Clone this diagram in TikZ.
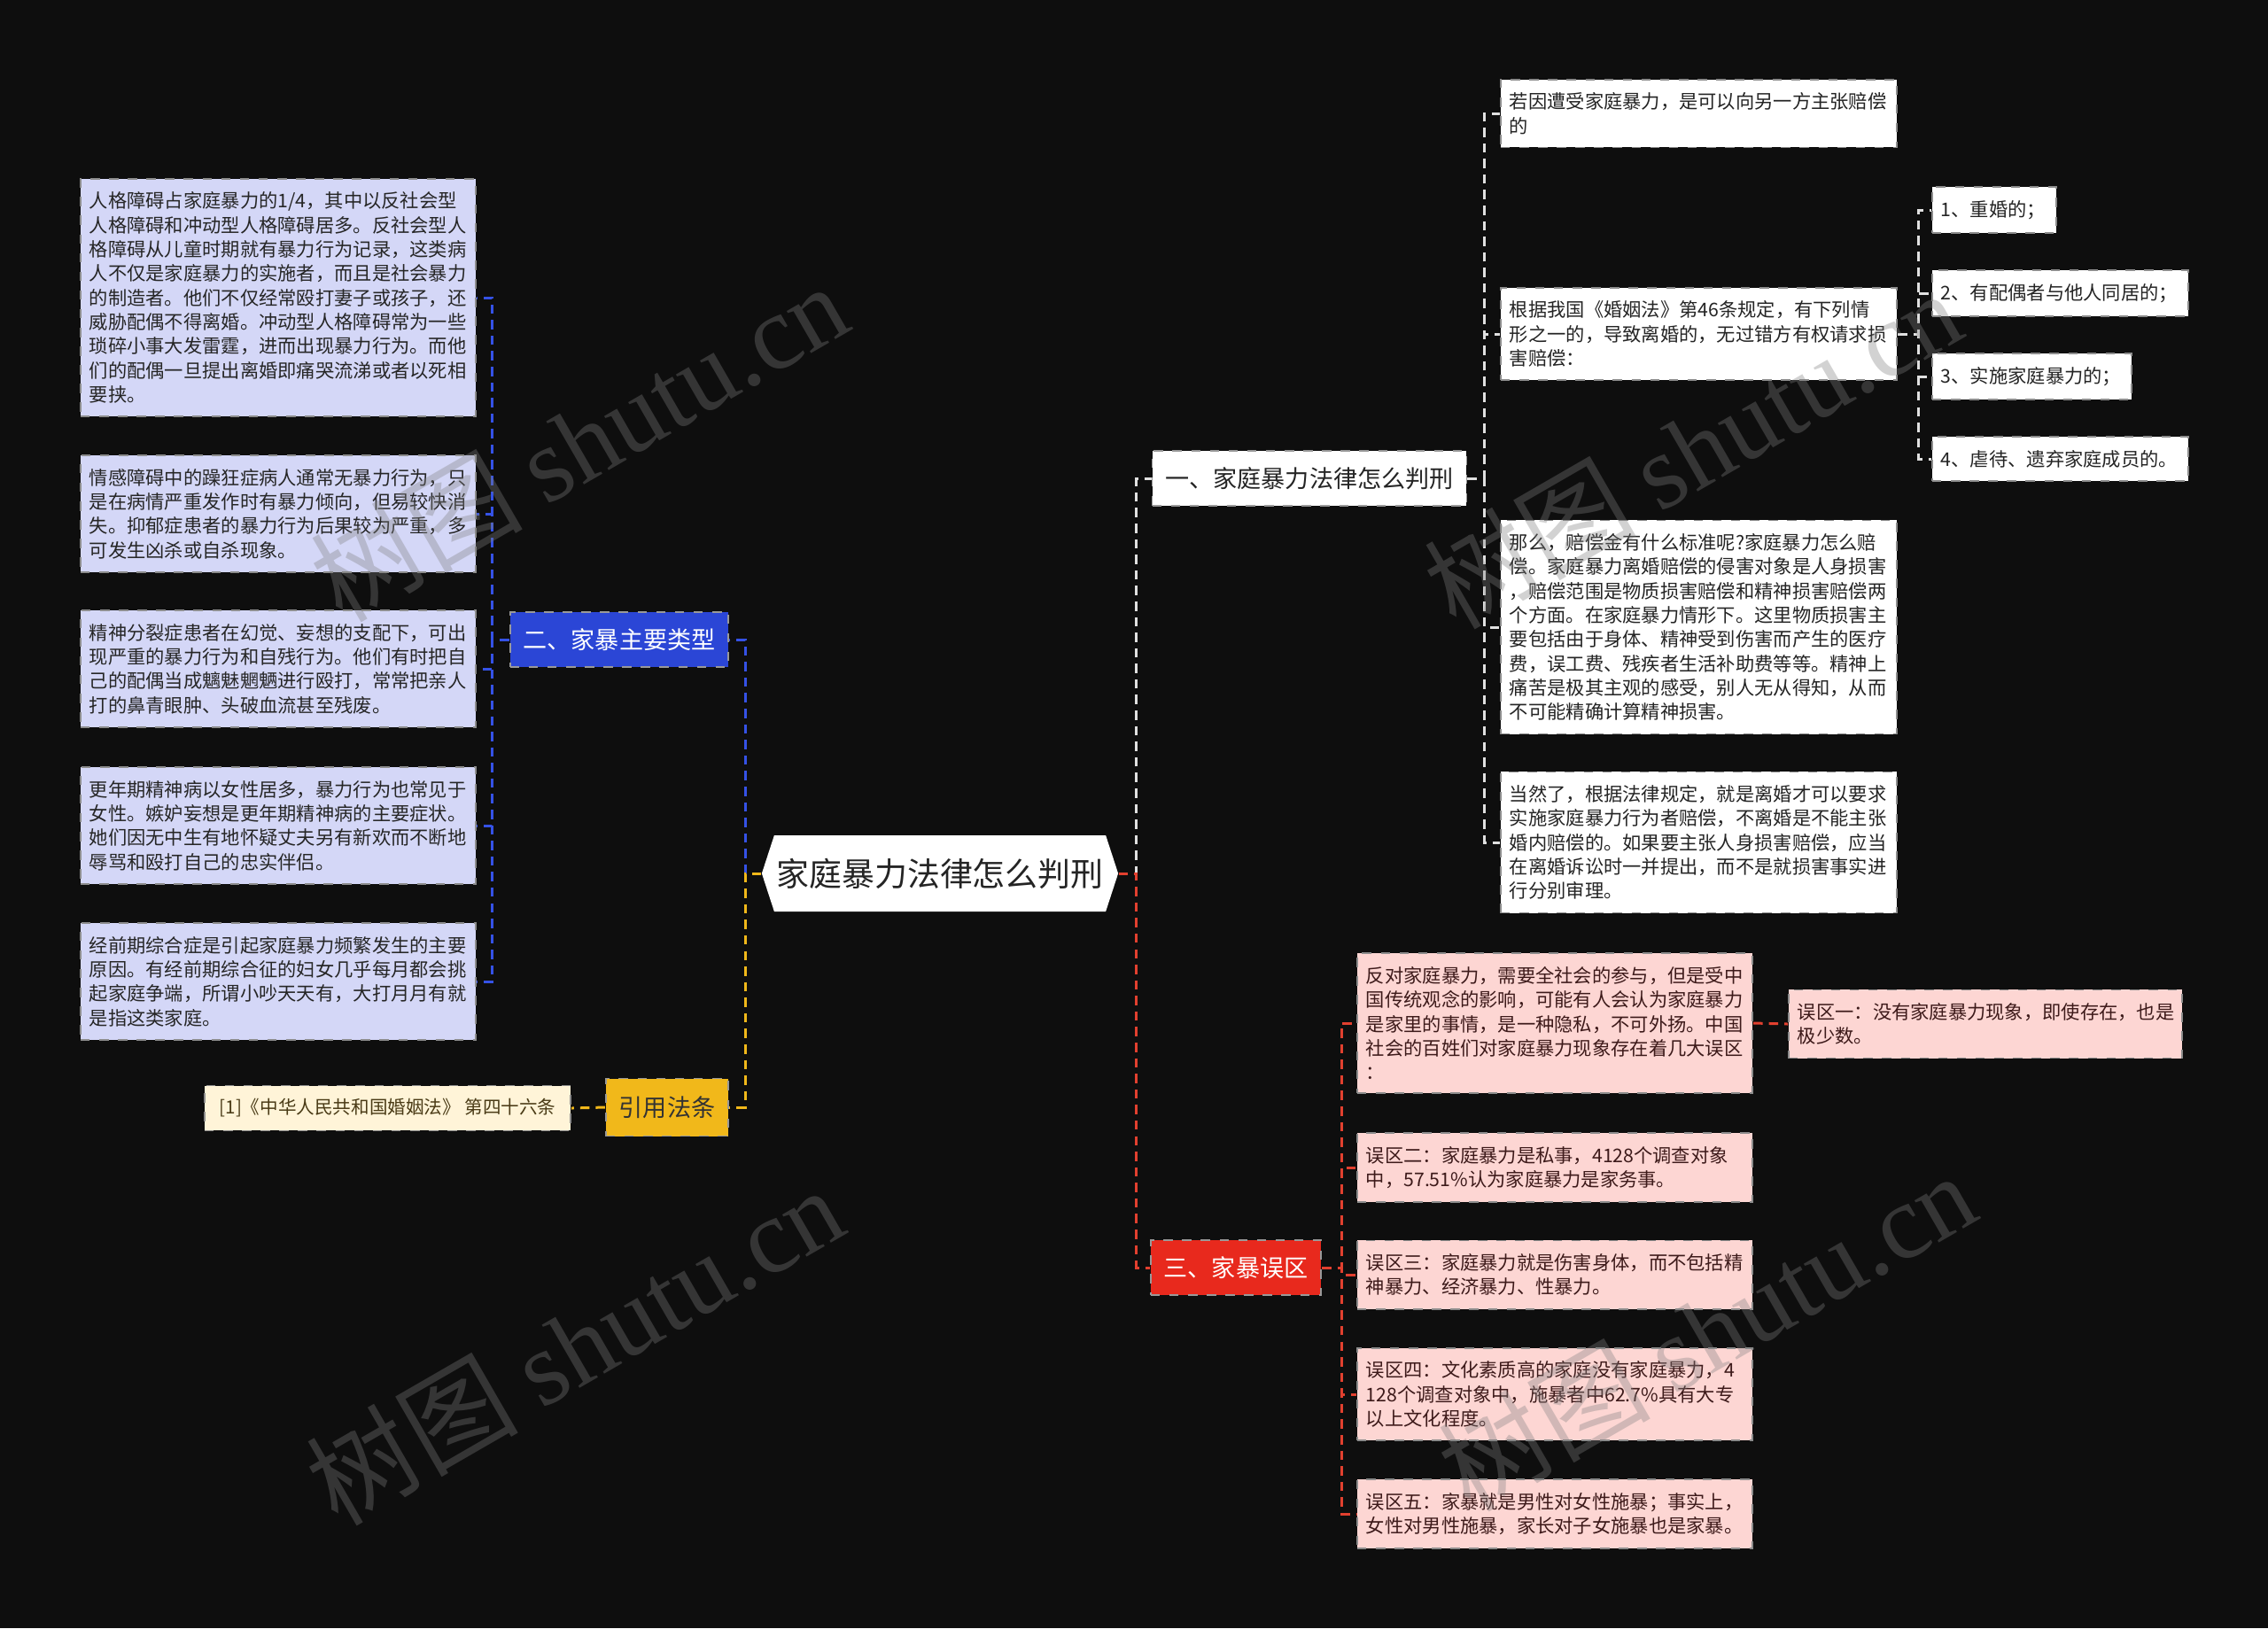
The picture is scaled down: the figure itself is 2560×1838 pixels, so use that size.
\documentclass[tikz,border=0pt]{standalone}
\usepackage{fontspec}
\setmainfont{Noto Sans CJK SC}
\newfontfamily\wmlatin{Liberation Serif}
\usepackage{tikz}
\usetikzlibrary{positioning}
\definecolor{bgdark}{HTML}{0E0E0E}
\definecolor{bluebr}{HTML}{2B46D6}
\definecolor{bluelink}{HTML}{3552E6}
\definecolor{redbr}{HTML}{E8291D}
\definecolor{redlink}{HTML}{E2402F}
\definecolor{goldbr}{HTML}{F1B81A}
\definecolor{lavfill}{HTML}{D4D7F7}
\definecolor{pinkfill}{HTML}{FDD6D3}
\definecolor{creamfill}{HTML}{FFF4D8}
\definecolor{inkdark}{HTML}{242424}
\definecolor{inkpink}{HTML}{3D1A1A}
\definecolor{inkcream}{HTML}{4A3B16}
\tikzstyle{leaf}=[draw=black!45,dashed,line width=0.5pt,anchor=west,align=left,inner xsep=0.10cm,inner ysep=0.15cm,font=\fontsize{6.05}{7.77}\selectfont]
\tikzstyle{branch}=[draw=black!40,dashed,line width=0.5pt,inner xsep=0.15cm,minimum height=0.62cm,font=\fontsize{7.7}{9}\selectfont]
\tikzstyle{lnk}=[line width=0.85pt,dash pattern=on 3pt off 2pt]
\tikzstyle{wmark}=[rotate=30,text=gray,text opacity=0.35,font=\fontsize{34}{34}\selectfont]

\begin{document}
\begin{tikzpicture}[x=0.01cm,y=-0.01cm]
  \useasboundingbox (0,0) rectangle (2560,1838);
  \fill[bgdark] (0,0) rectangle (2560,1838);

  % root
  \node[font=\fontsize{10.5}{12}\selectfont,text=inkdark,minimum width=4.02cm,minimum height=0.86cm,inner sep=0,fill=bgdark,
    path picture={\fill[white] (path picture bounding box.west) -- ([xshift=0.14cm]path picture bounding box.north west)
      -- ([xshift=-0.14cm]path picture bounding box.north east) -- (path picture bounding box.east)
      -- ([xshift=-0.14cm]path picture bounding box.south east) -- ([xshift=0.14cm]path picture bounding box.south west) -- cycle;}]
    (root) at (1061,986) {家庭暴力法律怎么判刑};

  % branches
  \node[branch,fill=white,text=inkdark] (one) at (1478,540) {一、家庭暴力法律怎么判刑};
  \node[branch,fill=bluebr,text=white] (two) at (699,722) {二、家暴主要类型};
  \node[branch,fill=goldbr,text=black!80,minimum height=0.65cm] (cite) at (753,1250) {引用法条};
  \node[branch,fill=redbr,text=white] (three) at (1395,1431) {三、家暴误区};

  % branch one
  \node[leaf,fill=white,text=inkdark,text width=4.27cm] (ra) at (1693,128) {若因遭受家庭暴力，是可以向另一方主张赔偿\\的};
  \node[leaf,fill=white,text=inkdark,text width=4.27cm] (rb) at (1693,377) {根据我国《婚姻法》第46条规定，有下列情\\形之一的，导致离婚的，无过错方有权请求损\\害赔偿：};
  \node[leaf,fill=white,text=inkdark,text width=4.27cm] (rc) at (1693,708) {那么，赔偿金有什么标准呢?家庭暴力怎么赔\\偿。家庭暴力离婚赔偿的侵害对象是人身损害\\，赔偿范围是物质损害赔偿和精神损害赔偿两\\个方面。在家庭暴力情形下。这里物质损害主\\要包括由于身体、精神受到伤害而产生的医疗\\费，误工费、残疾者生活补助费等等。精神上\\痛苦是极其主观的感受，别人无从得知，从而\\不可能精确计算精神损害。};
  \node[leaf,fill=white,text=inkdark,text width=4.27cm] (rd) at (1693,951) {当然了，根据法律规定，就是离婚才可以要求\\实施家庭暴力行为者赔偿，不离婚是不能主张\\婚内赔偿的。如果要主张人身损害赔偿，应当\\在离婚诉讼时一并提出，而不是就损害事实进\\行分别审理。};
  \node[leaf,fill=white,text=inkdark,text width=1.20cm] (ca) at (2180,237) {1、重婚的；};
  \node[leaf,fill=white,text=inkdark,text width=2.69cm] (cb) at (2180,331) {2、有配偶者与他人同居的；};
  \node[leaf,fill=white,text=inkdark,text width=2.05cm] (cc) at (2180,425) {3、实施家庭暴力的；};
  \node[leaf,fill=white,text=inkdark,text width=2.69cm] (cd) at (2180,518) {4、虐待、遗弃家庭成员的。};

  % branch two
  \node[leaf,fill=lavfill,text=black!85,text width=4.26cm] (la) at (90,336) {人格障碍占家庭暴力的1/4，其中以反社会型\\人格障碍和冲动型人格障碍居多。反社会型人\\格障碍从儿童时期就有暴力行为记录，这类病\\人不仅是家庭暴力的实施者，而且是社会暴力\\的制造者。他们不仅经常殴打妻子或孩子，还\\威胁配偶不得离婚。冲动型人格障碍常为一些\\琐碎小事大发雷霆，进而出现暴力行为。而他\\们的配偶一旦提出离婚即痛哭流涕或者以死相\\要挟。};
  \node[leaf,fill=lavfill,text=black!85,text width=4.26cm] (lb) at (90,580) {情感障碍中的躁狂症病人通常无暴力行为，只\\是在病情严重发作时有暴力倾向，但易较快消\\失。抑郁症患者的暴力行为后果较为严重，多\\可发生凶杀或自杀现象。};
  \node[leaf,fill=lavfill,text=black!85,text width=4.26cm] (lc) at (90,755) {精神分裂症患者在幻觉、妄想的支配下，可出\\现严重的暴力行为和自残行为。他们有时把自\\己的配偶当成魑魅魍魉进行殴打，常常把亲人\\打的鼻青眼肿、头破血流甚至残废。};
  \node[leaf,fill=lavfill,text=black!85,text width=4.26cm] (ld) at (90,932) {更年期精神病以女性居多，暴力行为也常见于\\女性。嫉妒妄想是更年期精神病的主要症状。\\她们因无中生有地怀疑丈夫另有新欢而不断地\\辱骂和殴打自己的忠实伴侣。};
  \node[leaf,fill=lavfill,text=black!85,text width=4.26cm] (le) at (90,1108) {经前期综合症是引起家庭暴力频繁发生的主要\\原因。有经前期综合征的妇女几乎每月都会挑\\起家庭争端，所谓小吵天天有，大打月月有就\\是指这类家庭。};

  % citation
  \node[leaf,fill=creamfill,text=inkcream,minimum width=4.13cm,font=\fontsize{5.85}{7.5}\selectfont] (ref) at (230,1251) {[1]《中华人民共和国婚姻法》~第四十六条};

  % branch three
  \node[leaf,fill=pinkfill,text=inkpink,text width=4.26cm] (pa) at (1531,1155) {反对家庭暴力，需要全社会的参与，但是受中\\国传统观念的影响，可能有人会认为家庭暴力\\是家里的事情，是一种隐私，不可外扬。中国\\社会的百姓们对家庭暴力现象存在着几大误区\\：};
  \node[leaf,fill=pinkfill,text=inkpink,text width=4.24cm] (pz) at (2018,1156) {误区一：没有家庭暴力现象，即使存在，也是\\极少数。};
  \node[leaf,fill=pinkfill,text=inkpink,text width=4.26cm] (pb) at (1531,1318) {误区二：家庭暴力是私事，4128个调查对象\\中，57.51\%认为家庭暴力是家务事。};
  \node[leaf,fill=pinkfill,text=inkpink,text width=4.26cm] (pc) at (1531,1439) {误区三：家庭暴力就是伤害身体，而不包括精\\神暴力、经济暴力、性暴力。};
  \node[leaf,fill=pinkfill,text=inkpink,text width=4.26cm] (pd) at (1531,1574) {误区四：文化素质高的家庭没有家庭暴力，4\\128个调查对象中，施暴者中62.7\%具有大专\\以上文化程度。};
  \node[leaf,fill=pinkfill,text=inkpink,text width=4.26cm] (pe) at (1531,1709) {误区五：家暴就是男性对女性施暴；事实上，\\女性对男性施暴，家长对子女施暴也是家暴。};

  % connectors
  \draw[lnk,white!88!black] (root.east) -- ++(20,0) |- (one.west);
  \draw[lnk,redlink] (root.east) -- ++(20,0) |- (three.west);
  \draw[lnk,bluelink] (root.west) -- ++(-18,0) |- (two.east);
  \draw[lnk,goldbr] (root.west) -- ++(-18,0) |- (cite.east);

  \draw[lnk,white!88!black] (one.east) -- ++(19,0) |- (ra.west)
    (one.east) -- ++(19,0) |- (rb.west)
    (one.east) -- ++(19,0) |- (rc.west)
    (one.east) -- ++(19,0) |- (rd.west);
  \draw[lnk,white!88!black] (rb.east) -- ++(23,0) |- (ca.west)
    (rb.east) -- ++(23,0) |- (cb.west)
    (rb.east) -- ++(23,0) |- (cc.west)
    (rb.east) -- ++(23,0) |- (cd.west);

  \draw[lnk,bluelink] (two.west) -- ++(-19,0) |- (la.east)
    (two.west) -- ++(-19,0) |- (lb.east)
    (two.west) -- ++(-19,0) |- (lc.east)
    (two.west) -- ++(-19,0) |- (ld.east)
    (two.west) -- ++(-19,0) |- (le.east);

  \draw[lnk,goldbr] (cite.west) -- (ref.east);

  \draw[lnk,redlink] (three.east) -- ++(22,0) |- (pa.west)
    (three.east) -- ++(22,0) |- (pb.west)
    (three.east) -- ++(22,0) |- (pc.west)
    (three.east) -- ++(22,0) |- (pd.west)
    (three.east) -- ++(22,0) |- (pe.west);
  \draw[lnk,redlink] (pa.east) -- (pz.west);

  % watermarks
  \node[wmark] (wma) at (653,498) {树图 {\wmlatin shutu.cn}};
  \node[wmark] (wmb) at (648,1518) {树图 {\wmlatin shutu.cn}};
  \node[wmark] (wmc) at (1910,506) {树图 {\wmlatin shutu.cn}};
  \node[wmark] (wmd) at (1926,1502) {树图 {\wmlatin shutu.cn}};
\end{tikzpicture}
\end{document}
